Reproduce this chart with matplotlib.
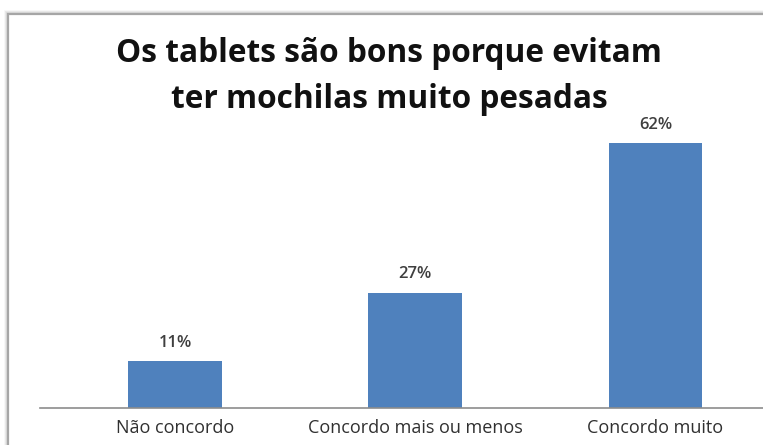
import matplotlib.pyplot as plt
from matplotlib.patches import Rectangle

# survey answers
categories = ["Não concordo", "Concordo mais ou menos", "Concordo muito"]
values = [11, 27, 62]
labels = ["11%", "27%", "62%"]

plt.rcParams['font.family'] = ['Open Sans', 'DejaVu Sans']

W, H = 763, 445
fig = plt.figure(figsize=(W / 100, H / 100), dpi=100)

# chart frame, with a faint shadow outside it
left, top = 8, 14
for i, a in enumerate([0.04, 0.07, 0.10]):
    d = 3 - i
    fig.patches.append(Rectangle(((left - d) / W, -0.1), 1.2, (H - top + d) / H + 0.1,
                                 transform=fig.transFigure, fill=False,
                                 edgecolor='black', alpha=a, linewidth=1.2))
fig.patches.append(Rectangle((left / W, -0.1), 1.2, (H - top) / H + 0.1,
                             transform=fig.transFigure, fill=False,
                             edgecolor='#a6a6a6', linewidth=1.6))

ax = fig.add_axes([40 / W, 37 / H, 750 / W, 300 / H])
x = range(len(categories))
bars = ax.bar(x, values, width=0.39, color='#4F81BD')
ax.set_xlim(-0.5625, 2.56)
ax.set_ylim(0, 70.2)

for b, lab in zip(bars, labels):
    ax.annotate(lab, (b.get_x() + b.get_width() / 2, b.get_height()),
                xytext=(0, 7.5), textcoords='offset points',
                ha='center', va='bottom', fontsize=12, fontweight='semibold',
                color='#3f3f3f')

ax.set_xticks(list(x))
ax.set_xticklabels(categories, fontsize=13, color='#303030')
ax.tick_params(axis='x', length=0, pad=8)
ax.set_yticks([])
for s in ['top', 'right', 'left']:
    ax.spines[s].set_visible(False)
ax.spines['bottom'].set_color('#8c8c8c')
ax.spines['bottom'].set_linewidth(1.2)

fig.text(389 / W, 1 - 54 / H, "Os tablets são bons porque evitam",
         ha='center', va='center', fontsize=22.8, fontweight='bold', color='#111111')
fig.text(389 / W, 1 - 100 / H, "ter mochilas muito pesadas",
         ha='center', va='center', fontsize=22.8, fontweight='bold', color='#111111')

fig.savefig('out.png', dpi=100)
